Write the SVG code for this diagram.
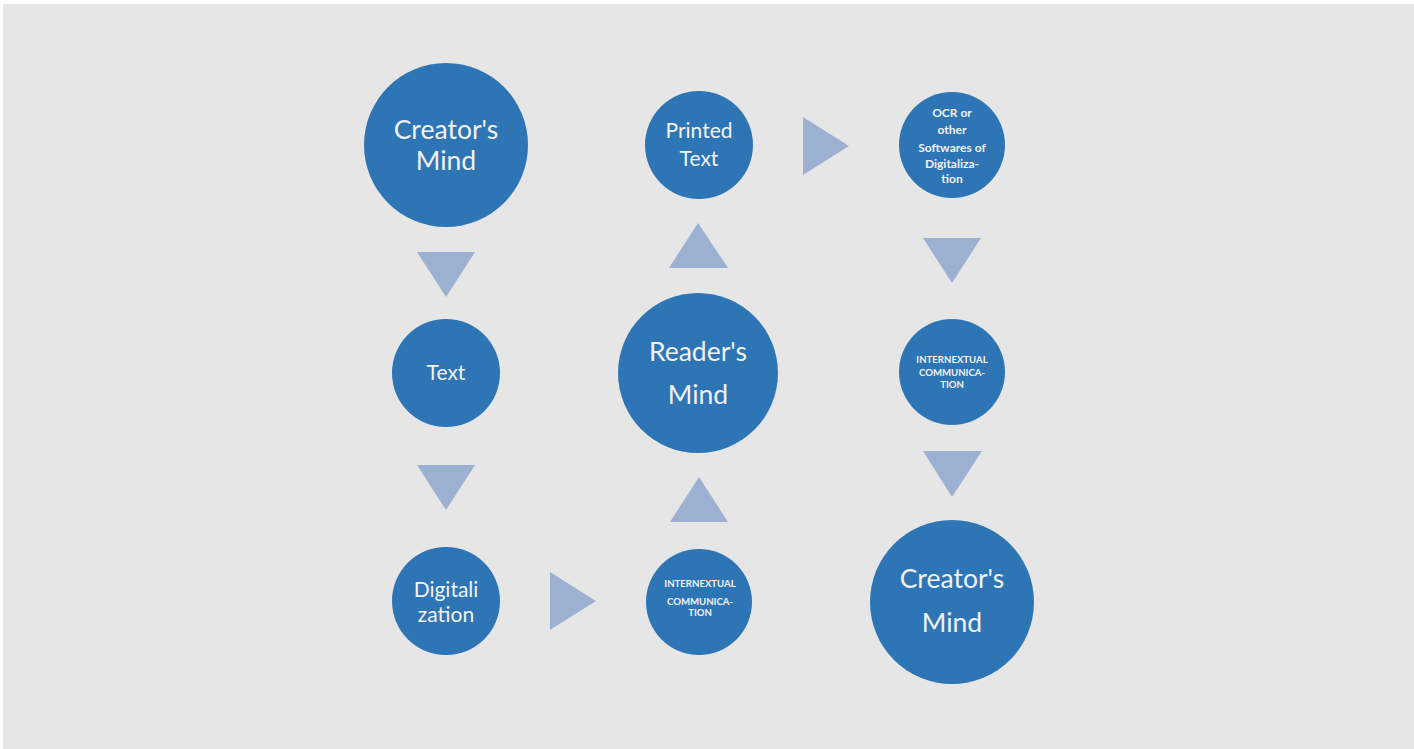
<svg xmlns="http://www.w3.org/2000/svg" width="1414" height="749" viewBox="0 0 1414 749">
<style>
.node{fill:#2e75b6}
.arrow{fill:#9cb0d2}
text{font-family:Lato,"Open Sans","Liberation Sans",sans-serif;fill:#f2f2f2;text-anchor:middle}
.big{font-size:26.5px}
.mid{font-size:21px}
.sm{font-size:12px;font-weight:bold}
.xs{font-size:9.6px;font-weight:bold}
</style>
<rect x="0" y="0" width="1414" height="749" fill="#ffffff"/>
<rect x="3" y="4" width="1411" height="745" fill="#e6e6e6"/>
<g id="connectors">
<polygon class="arrow" points="417,252 475,252 446,297"/>
<polygon class="arrow" points="417,465 475,465 446,510"/>
<polygon class="arrow" points="550,572 550,630 596,601"/>
<polygon class="arrow" points="670,522 728,522 699,477"/>
<polygon class="arrow" points="669,268 728,268 698,223"/>
<polygon class="arrow" points="803,117 803,175 849,146"/>
<polygon class="arrow" points="923,238 981,238 952,283"/>
<polygon class="arrow" points="923,451 982,451 952,497"/>
</g>
<g id="creators-mind-1">
<circle class="node" cx="446" cy="145" r="82"/>
<text class="big" x="446" y="139">Creator's</text>
<text class="big" x="446" y="170">Mind</text>
</g>
<g id="text-node">
<circle class="node" cx="446" cy="373" r="54"/>
<text class="mid" x="446" y="380">Text</text>
</g>
<g id="digitalization">
<circle class="node" cx="446" cy="601" r="54"/>
<text class="mid" x="446" y="597">Digitali</text>
<text class="mid" x="446" y="622">zation</text>
</g>
<g id="internextual-1">
<circle class="node" cx="699" cy="602" r="53"/>
<text class="xs" x="700" y="587">INTERNEXTUAL</text>
<text class="xs" x="700" y="605">COMMUNICA-</text>
<text class="xs" x="700" y="616">TION</text>
</g>
<g id="readers-mind">
<circle class="node" cx="698" cy="373" r="80"/>
<text class="big" x="698" y="361">Reader's</text>
<text class="big" x="698" y="404">Mind</text>
</g>
<g id="printed-text">
<circle class="node" cx="699" cy="145" r="54"/>
<text class="mid" x="699" y="138">Printed</text>
<text class="mid" x="699" y="166">Text</text>
</g>
<g id="ocr">
<circle class="node" cx="952" cy="145" r="53"/>
<text class="sm" x="952" y="117">OCR or</text>
<text class="sm" x="952" y="134">other</text>
<text class="sm" x="952" y="152">Softwares of</text>
<text class="sm" x="952" y="168">Digitaliza-</text>
<text class="sm" x="952" y="183">tion</text>
</g>
<g id="internextual-2">
<circle class="node" cx="952" cy="372" r="53"/>
<text class="xs" x="952" y="363">INTERNEXTUAL</text>
<text class="xs" x="952" y="376">COMMUNICA-</text>
<text class="xs" x="952" y="388">TION</text>
</g>
<g id="creators-mind-2">
<circle class="node" cx="952" cy="602" r="82"/>
<text class="big" x="952" y="588">Creator's</text>
<text class="big" x="952" y="632">Mind</text>
</g>
</svg>
